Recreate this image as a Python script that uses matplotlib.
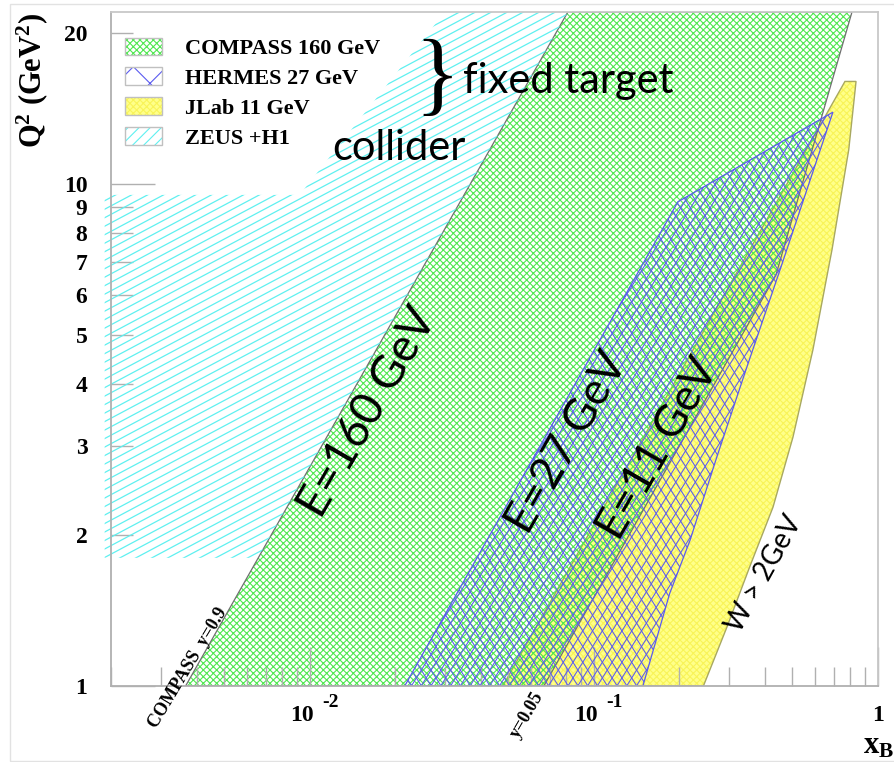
import numpy as np
import matplotlib
matplotlib.use('Agg')
import matplotlib.pyplot as plt
from matplotlib.patches import Patch, Rectangle
from matplotlib.collections import LineCollection
from matplotlib.legend_handler import HandlerTuple

plt.rcParams['hatch.linewidth'] = 0.8
plt.rcParams['mathtext.fontset'] = 'custom'
plt.rcParams['mathtext.rm'] = 'Liberation Serif:bold'
plt.rcParams['mathtext.it'] = 'Liberation Serif:bold'
plt.rcParams['mathtext.bf'] = 'Liberation Serif:bold'

# kinematic regions (x_B, Q^2 [GeV^2])
zeus_x = [0.0019, 0.00659, 0.0810, 0.0299, 0.00922, 0.0019]
zeus_q2 = [1.8, 1.8, 22.0, 22.0, 9.51, 9.51]

compass_x = [0.00366, 0.0810, 0.810, 0.4375, 0.0667]
compass_q2 = [1.0, 22.0, 22.0, 6.59, 1.0]

hermes_x = [0.0216, 0.1976, 0.694, 0.452, 0.3457, 0.271, 0.218, 0.185, 0.1488]
hermes_q2 = [1.0, 9.21, 13.9, 6.74, 4.32, 2.86, 1.95, 1.53, 1.0]

jlab_x = [0.0478, 0.765, 0.837, 0.789, 0.689, 0.590, 0.502, 0.427, 0.354, 0.294, 0.243]
jlab_q2 = [1.0, 16.0, 16.0, 11.7, 7.4, 4.67, 3.13, 2.27, 1.73, 1.31, 1.0]

legend_labels = ['COMPASS 160 GeV', 'HERMES 27 GeV', 'JLab 11 GeV', 'ZEUS +H1']

x_major = [0.01, 0.1, 1.0]
x_base = ['10', '10', '1']
x_exp = ['-2', '-1', '']
x_minor = [k * 10.0**e for e in (-3, -2, -1) for k in range(2, 10)]
y_major = [1, 10]
y_minor = [2, 3, 4, 5, 6, 7, 8, 9, 20]

serif = 'Liberation Serif'
sans = 'Lato'

fig = plt.figure(figsize=(8.94, 7.62), dpi=100)
ax = fig.add_axes([111 / 894, 1 - 686 / 762, 767 / 894, 674 / 762])
ax.set_xscale('log')
ax.set_yscale('log')
ax.set_xlim(0.002, 1.0)
ax.set_ylim(1, 22)


def line_hatch(patch, angles, step, color, lw):
    # straight hatch lines in screen space, clipped to the polygon
    w, h = ax.bbox.width, ax.bbox.height
    diag = np.hypot(w, h)
    segs = []
    for a in angles:
        t = np.radians(a)
        d = np.array([np.cos(t), np.sin(t)])
        n = np.array([-d[1], d[0]])
        for off in np.arange(-diag, diag, step):
            c = np.array([w / 2, h / 2]) + n * off
            p0, p1 = c - d * diag, c + d * diag
            segs.append([(p0[0] / w, p0[1] / h), (p1[0] / w, p1[1] / h)])
    lc = LineCollection(segs, colors=color, linewidths=lw, transform=ax.transAxes)
    lc.set_clip_path(patch)
    ax.add_collection(lc, autolim=False)


cyan = '#5ff0f0'
green = '#4fe84f'
blue = '#5a5af0'
yellow_face = '#ffff8a'
yellow_hatch = '#f8f458'

# ZEUS + H1
zp = ax.fill(zeus_x, zeus_q2, facecolor='none', edgecolor='none', linewidth=0)[0]
line_hatch(zp, [28], 7.5, cyan, 0.9)

# JLab
ax.fill(jlab_x, jlab_q2, facecolor=yellow_face, edgecolor=yellow_hatch, hatch='xxxxx', linewidth=0)
ax.fill(jlab_x, jlab_q2, fill=False, edgecolor='#a8a860', linewidth=1.0)

# COMPASS
ax.fill(compass_x, compass_q2, facecolor='none', edgecolor=green, hatch='xxxxx', linewidth=0)
ax.fill(compass_x, compass_q2, fill=False, edgecolor='#707070', linewidth=0.9)

# HERMES
hp = ax.fill(hermes_x, hermes_q2, facecolor='none', edgecolor='none', linewidth=0)[0]
line_hatch(hp, [58, 122], 8.3, blue, 0.75)
ax.fill(hermes_x, hermes_q2, fill=False, edgecolor=blue, linewidth=0.9)

ax.set_xlim(0.002, 1.0)
ax.set_ylim(1, 22)

# axes / ticks
for s in ax.spines.values():
    s.set_color('#b0b0b0')
    s.set_linewidth(1.3)
ax.spines['top'].set_color('#c8c8c8')
ax.spines['right'].set_color('#c8c8c8')

ax.set_xticks(x_major)
ax.set_xticks(x_minor, minor=True)
ax.set_xticklabels([])
ax.set_xticklabels([], minor=True)
ax.set_yticks(y_major)
ax.set_yticks(y_minor, minor=True)
ax.set_yticklabels([str(v) for v in y_major])
ax.set_yticklabels([str(v) for v in y_minor], minor=True)
ax.tick_params(which='both', direction='in', color='#b0b0b0', width=1.0,
               top=False, right=False)
ax.tick_params(axis='x', which='major', length=28)
ax.tick_params(axis='x', which='minor', length=14)
ax.tick_params(axis='y', which='major', length=32)
ax.tick_params(axis='y', which='minor', length=16)
ax.tick_params(axis='y', which='both', pad=17, labelsize=17)
for lab in ax.get_yticklabels(which='both'):
    lab.set_fontfamily(serif)
    lab.set_fontweight('bold')

xt = ax.get_xaxis_transform()
for xv, b, e in zip(x_major, x_base, x_exp):
    if e:
        ax.annotate(b, (xv, 0), xycoords=xt, xytext=(3, -25), textcoords='offset points',
                    ha='right', va='baseline', fontsize=17, fontfamily=serif,
                    fontweight='bold', annotation_clip=False)
        ax.annotate(e, (xv, 0), xycoords=xt, xytext=(9, -15), textcoords='offset points',
                    ha='left', va='baseline', fontsize=14, fontfamily=serif,
                    fontweight='bold', annotation_clip=False)
    else:
        ax.annotate(b, (xv, 0), xycoords=xt, xytext=(0, -25), textcoords='offset points',
                    ha='center', va='baseline', fontsize=17, fontfamily=serif,
                    fontweight='bold', annotation_clip=False)

fig.text(32 / 894, 1 - 80 / 762, 'Q$^2$ (GeV$^2$)', rotation=90, ha='center', va='center',
         fontsize=22, fontfamily=serif, fontweight='bold')
fig.text(863 / 894, 1 - 754 / 762, 'x$_\\mathregular{B}$', ha='left', va='baseline',
         fontsize=22, fontfamily=serif, fontweight='bold')

# legend
box = dict(fill=False, edgecolor='#c0c0c0', linewidth=1)
handles = [
    (Patch(facecolor='white', edgecolor=green, hatch='xxxxx', linewidth=0), Patch(**box)),
    (Patch(facecolor='white', edgecolor=blue, hatch='x', linewidth=0), Patch(**box)),
    (Patch(facecolor=yellow_face, edgecolor=yellow_hatch, hatch='xxxxx', linewidth=0), Patch(**box)),
    (Patch(facecolor='white', edgecolor=cyan, hatch='///', linewidth=0), Patch(**box)),
]
leg = ax.legend(handles, legend_labels, handler_map={tuple: HandlerTuple(ndivide=1, pad=0)},
                loc='upper left', bbox_to_anchor=(0.018, 0.962), borderaxespad=0, borderpad=0,
                frameon=False, handlelength=1.67, handleheight=0.86, handletextpad=1.04,
                labelspacing=0.37, prop={'family': serif, 'weight': 'bold', 'size': 16})

# annotations
ax.text(0.0280, 16.0, '}', fontsize=68, fontfamily=serif, ha='center', va='center')
ax.text(0.0346, 15.18, 'fixed target', fontsize=30, fontfamily=sans, ha='left', va='baseline')
ax.text(0.01205, 11.16, 'collider', fontsize=30, fontfamily=sans, ha='left', va='baseline')

ax.text(0.0160, 3.50, 'E=160 GeV', rotation=60, rotation_mode='anchor', fontsize=33,
        fontfamily=sans, ha='center', va='center')
ax.text(0.0809, 3.05, 'E=27 GeV', rotation=60, rotation_mode='anchor', fontsize=32,
        fontfamily=sans, ha='center', va='center')
ax.text(0.168, 2.97, 'E=11 GeV', rotation=60, rotation_mode='anchor', fontsize=32,
        fontfamily=sans, ha='center', va='center')
ax.text(0.397, 1.671, 'W > 2GeV', rotation=61, rotation_mode='anchor', fontsize=20,
        fontfamily=sans, ha='center', va='center')

ax.text(0.00372, 1.086, 'COMPASS  y=0.9', rotation=59, rotation_mode='anchor', fontsize=13,
        fontfamily=serif, fontweight='bold', ha='center', va='center', clip_on=False)
ax.text(0.0581, 0.875, 'y=0.05', rotation=60, rotation_mode='anchor', fontsize=13,
        fontfamily=serif, fontweight='bold', ha='center', va='center', clip_on=False)

# faint outer frame
fig.add_artist(Rectangle((10 / 894, 1 / 762), 0.995, 757 / 762, transform=fig.transFigure,
                         fill=False, edgecolor='#e2e2e2', linewidth=1))

fig.savefig('out.png', dpi=100)
